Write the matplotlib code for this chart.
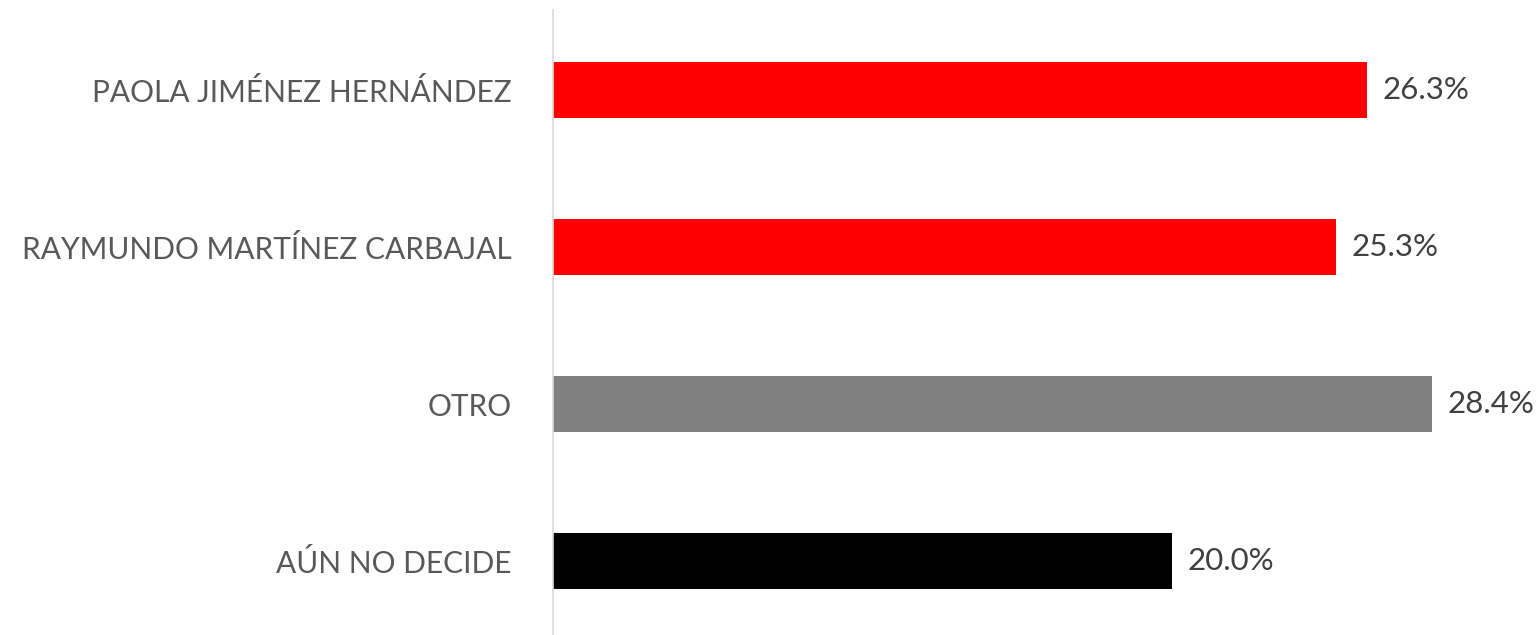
import matplotlib
matplotlib.use("Agg")
import matplotlib.pyplot as plt

# datos (de abajo hacia arriba)
categorias = ["AÚN NO DECIDE", "OTRO", "RAYMUNDO MARTÍNEZ CARBAJAL", "PAOLA JIMÉNEZ HERNÁNDEZ"]
valores = [20.0, 28.4, 25.3, 26.3]
colores = ["#000000", "#808080", "#ff0000", "#ff0000"]

plt.rcParams['font.family'] = ['Lato', 'DejaVu Sans']

fig = plt.figure(figsize=(15.4, 6.35), dpi=100)
ax = fig.add_axes([553 / 1540, 0, 1 - 553 / 1540, 1 - 10 / 635])

pos = list(range(len(categorias)))
ax.barh(pos, valores, height=0.36, color=colores)

for y, v in zip(pos, valores):
    ax.text(v + 0.5, y, f"{v:.1f}%", va="center", ha="left",
            fontsize=22.5, color="#404040")

ax.set_xlim(0, 31.9)
ax.set_ylim(-0.471, 3.51)
ax.set_yticks(pos)
ax.set_yticklabels(categorias, fontsize=21.5, color="#595959")
ax.tick_params(axis="y", length=0, pad=30)
ax.set_xticks([])

for s in ["top", "right", "bottom"]:
    ax.spines[s].set_visible(False)
ax.spines["left"].set_color("#d9d9d9")
ax.spines["left"].set_linewidth(1.2)

fig.savefig("out.png", dpi=100)
